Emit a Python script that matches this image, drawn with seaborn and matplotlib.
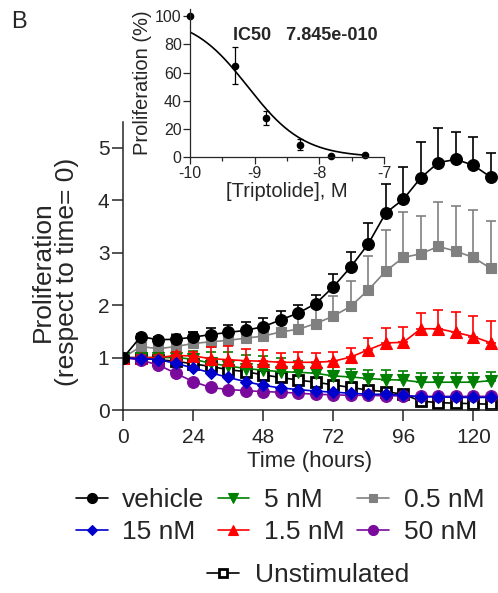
import numpy as np
import matplotlib
matplotlib.use('Agg')
import matplotlib.pyplot as plt
import seaborn as sns
from matplotlib.ticker import MultipleLocator

sns.set_style('ticks')
plt.rcParams['font.family'] = ['Liberation Sans', 'DejaVu Sans']
plt.rcParams['axes.unicode_minus'] = False

# ---- main panel data (proliferation relative to t=0) ----
times = [0, 6, 12, 18, 24, 30, 36, 42, 48, 54, 60, 66, 72, 78, 84, 90, 96, 102, 108, 114, 120, 126]

vehicle = [1.00, 1.40, 1.34, 1.35, 1.39, 1.44, 1.48, 1.52, 1.59, 1.72, 1.85, 2.03,
           2.35, 2.73, 3.17, 3.76, 4.02, 4.43, 4.72, 4.78, 4.67, 4.44]
vehicle_err = [0.0, 0.05, 0.06, 0.08, 0.10, 0.12, 0.14, 0.15, 0.17, 0.16, 0.15, 0.17,
               0.24, 0.29, 0.40, 0.56, 0.61, 0.69, 0.65, 0.52, 0.54, 0.46]

nm05 = [1.00, 1.21, 1.17, 1.21, 1.27, 1.30, 1.33, 1.37, 1.41, 1.49, 1.54, 1.65,
        1.79, 1.98, 2.29, 2.65, 2.91, 2.98, 3.12, 3.03, 2.91, 2.70]
nm05_err = [0.0, 0.12, 0.20, 0.24, 0.22, 0.18, 0.17, 0.16, 0.18, 0.20, 0.25, 0.30,
            0.38, 0.48, 0.64, 0.79, 0.87, 0.73, 0.85, 0.87, 0.90, 0.91]

nm15_red = [1.00, 1.00, 1.00, 1.04, 1.03, 0.98, 0.96, 0.94, 0.93, 0.91, 0.91, 0.91,
            0.93, 1.01, 1.15, 1.28, 1.29, 1.55, 1.55, 1.48, 1.40, 1.28]
nm15_red_err = [0.0, 0.04, 0.05, 0.07, 0.08, 0.22, 0.27, 0.22, 0.21, 0.18, 0.19, 0.18,
                0.17, 0.18, 0.23, 0.29, 0.29, 0.30, 0.36, 0.39, 0.40, 0.42]

nm5 = [1.00, 1.00, 1.00, 1.00, 0.97, 0.89, 0.84, 0.79, 0.76, 0.73, 0.72, 0.70,
       0.65, 0.63, 0.60, 0.58, 0.57, 0.53, 0.53, 0.53, 0.53, 0.56]
nm5_err = [0.0, 0.05, 0.08, 0.10, 0.15, 0.22, 0.27, 0.26, 0.27, 0.27, 0.22, 0.20,
           0.18, 0.15, 0.16, 0.18, 0.17, 0.17, 0.17, 0.17, 0.17, 0.16]

nm15 = [1.00, 0.98, 0.96, 0.89, 0.80, 0.71, 0.62, 0.54, 0.47, 0.42, 0.39, 0.36,
        0.34, 0.32, 0.30, 0.30, 0.28, 0.25, 0.25, 0.24, 0.24, 0.24]

nm50 = [1.00, 0.95, 0.86, 0.70, 0.54, 0.43, 0.39, 0.37, 0.35, 0.34, 0.32, 0.30,
        0.29, 0.28, 0.28, 0.27, 0.27, 0.26, 0.26, 0.26, 0.26, 0.26]

unstim = [1.00, 0.99, 0.96, 0.93, 0.88, 0.83, 0.77, 0.73, 0.67, 0.62, 0.57, 0.53,
          0.48, 0.43, 0.38, 0.35, 0.30, 0.17, 0.14, 0.13, 0.12, 0.11]

# ---- inset: dose response ----
log_conc = [-10.0, -9.30, -8.82, -8.30, -7.82, -7.30]
prolif_pct = [100, 65, 28, 9, 1, 1.5]
prolif_err = [0, 13, 5, 4, 0, 0]
ic50 = 7.845e-10
hill = 1.0

fig = plt.figure(figsize=(4.98, 5.93), dpi=100)
ax = fig.add_axes([0.2476, 0.3086, 0.7497, 0.4862])

series = [
    # label, values, errors, color, marker, size, face, zorder
    ('Unstimulated', unstim, None, 'black', 's', 7.5, 'white', 2),
    ('0.5 nM', nm05, nm05_err, '#808080', 's', 7, '#808080', 3),
    ('5 nM', nm5, nm5_err, '#008000', 'v', 8, '#008000', 4),
    ('1.5 nM', nm15_red, nm15_red_err, '#ff0000', '^', 8, '#ff0000', 5),
    ('50 nM', nm50, None, '#7a0a9c', 'o', 8.5, '#7a0a9c', 6),
    ('15 nM', nm15, None, '#0000cc', 'D', 6, '#0000cc', 7),
    ('vehicle', vehicle, vehicle_err, 'black', 'o', 8.5, 'black', 8),
]

zeros = [0] * len(times)
handles = {}
for label, vals, err, col, mk, ms, fc, z in series:
    if err is not None:
        ax.errorbar(times, vals, yerr=[zeros, err], fmt='none', ecolor=col,
                    elinewidth=1.2, capsize=3.6, capthick=1.2, zorder=z - 0.5)
    sns.lineplot(x=times, y=vals, ax=ax, color=col, marker=mk, markersize=ms,
                 markerfacecolor=fc, markeredgecolor=col,
                 markeredgewidth=2 if fc == 'white' else 0.8,
                 linewidth=1.2, zorder=z, label=label, legend=False)
for h, l in zip(*ax.get_legend_handles_labels()):
    handles[l] = h
if ax.get_legend() is not None:
    ax.get_legend().remove()

ax.set_xlim(0, 128)
ax.set_ylim(0, 5.5)
ax.set_xticks([0, 24, 48, 72, 96, 120])
ax.set_yticks([0, 1, 2, 3, 4, 5])
ax.tick_params(labelsize=15, length=8, width=1.1, direction='out')
ax.tick_params(axis='x', pad=5)
ax.tick_params(axis='y', pad=2)
for s in ['left', 'bottom']:
    ax.spines[s].set_linewidth(1.1)
sns.despine(ax=ax)
ax.set_xlabel('Time (hours)', fontsize=16, labelpad=3)
ax.set_ylabel('')
fig.text(55 / 498, 1 - 272 / 593, 'Proliferation\n(respect to time= 0)', rotation=90,
         ha='center', va='center', multialignment='center', fontsize=19, linespacing=1.05)

order = ['vehicle', '15 nM', '5 nM', '1.5 nM', '0.5 nM', '50 nM']
fig.legend([handles[k] for k in order], order, ncol=3, loc='center',
           bbox_to_anchor=(280 / 498, 1 - 516 / 593), fontsize=19, frameon=False,
           handlelength=1.2, handletextpad=0.55, columnspacing=0.5,
           labelspacing=0.3, markerscale=0.85)
fig.legend([handles['Unstimulated']], ['Unstimulated'], loc='center',
           bbox_to_anchor=(308 / 498, 1 - 575 / 593), fontsize=19, frameon=False,
           handlelength=1.2, handletextpad=0.6, markerscale=0.85)

# ---- inset ----
axin = fig.add_axes([0.3815, 0.7347, 0.3896, 0.2501])
fit_x = np.linspace(-10, -7.3, 200)
fit_y = 100 / (1 + 10 ** ((fit_x - np.log10(ic50)) * hill))
sns.lineplot(x=fit_x, y=fit_y, ax=axin, color='black', linewidth=1.2)
axin.errorbar(log_conc, prolif_pct, yerr=prolif_err, fmt='o', color='black',
              markersize=4.5, elinewidth=0.9, capsize=2.5, capthick=0.9, clip_on=False)
axin.set_xlim(-10, -7)
axin.set_ylim(0, 105)
axin.set_xticks([-10, -9, -8, -7])
axin.set_yticks([0, 20, 40, 60, 80, 100])
axin.xaxis.set_minor_locator(MultipleLocator(0.5))
axin.tick_params(labelsize=11.5, length=5, width=0.9, pad=1)
axin.tick_params(which='minor', length=3, width=0.9)
for s in ['left', 'bottom']:
    axin.spines[s].set_linewidth(0.9)
sns.despine(ax=axin)
axin.set_xlabel('[Triptolide], M', fontsize=14.5, labelpad=1)
axin.set_ylabel('Proliferation (%)', fontsize=14.5, labelpad=2)
axin.patch.set_alpha(0)

fig.text(233 / 498, 1 - 36 / 593, 'IC50   7.845e-010', fontsize=13, fontweight='bold',
         va='center', ha='left')
fig.text(11 / 498, 1 - 11 / 593, 'B', fontsize=17, va='top', ha='left')

fig.savefig('out.png', dpi=100)
